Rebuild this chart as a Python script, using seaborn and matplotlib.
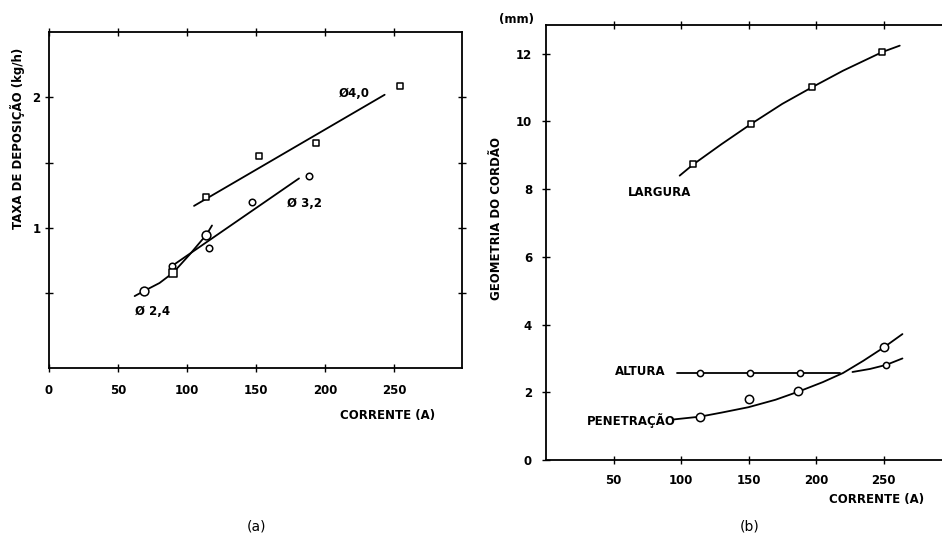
import matplotlib
matplotlib.use("Agg")
import matplotlib.pyplot as plt
import seaborn as sns

# ---------------- Panel (a): deposition rate ----------------
d40_x = [114, 152, 193, 254]
d40_y = [1.24, 1.55, 1.65, 2.09]
fit40_x = [105, 243]
fit40_y = [1.17, 2.02]

d32_x = [89, 116, 147, 188]
d32_y = [0.71, 0.85, 1.20, 1.40]
fit32_x = [89, 181]
fit32_y = [0.71, 1.38]

d24_circ_x = [69, 114]
d24_circ_y = [0.52, 0.95]
d24_sq_x = [90]
d24_sq_y = [0.66]
curve24_x = [62, 69, 80, 90, 102, 114, 118]
curve24_y = [0.48, 0.52, 0.58, 0.66, 0.80, 0.95, 1.02]

a_xticks = [0, 50, 100, 150, 200, 250]
a_yticks = [0.5, 1, 1.5, 2]
a_yticklabels = ["", "1", "", "2"]

# ---------------- Panel (b): bead geometry ----------------
larg_x = [109, 152, 197, 249]
larg_y = [8.73, 9.93, 11.01, 12.05]
larg_curve_x = [99, 109, 130, 152, 175, 197, 220, 249, 262]
larg_curve_y = [8.40, 8.73, 9.33, 9.93, 10.52, 11.01, 11.50, 12.05, 12.24]

alt_x = [114, 151, 188, 252]
alt_y = [2.57, 2.57, 2.57, 2.81]
alt_line1_x = [97, 218]
alt_line1_y = [2.57, 2.57]
alt_line2_x = [227, 240, 252, 264]
alt_line2_y = [2.60, 2.69, 2.81, 3.00]

pen_x = [114, 150, 187, 250]
pen_y = [1.28, 1.80, 2.04, 3.34]
pen_curve_x = [95, 114, 130, 150, 170, 187, 205, 220, 235, 250, 264]
pen_curve_y = [1.20, 1.28, 1.40, 1.56, 1.78, 2.02, 2.30, 2.57, 2.93, 3.32, 3.72]

b_xticks = [50, 100, 150, 200, 250]
b_yticks = [0, 2, 4, 6, 8, 10, 12]

sns.set_style("white")
plt.rcParams['font.family'] = ['DejaVu Sans']
plt.rcParams['text.color'] = 'black'
plt.rcParams['axes.labelcolor'] = 'black'
plt.rcParams['xtick.color'] = 'black'
plt.rcParams['ytick.color'] = 'black'

fig = plt.figure(figsize=(9.42, 5.36), dpi=100)
axa = fig.add_axes([49/942, 1-368/536, (462-49)/942, (368-32)/536])
axb = fig.add_axes([546/942, 1-460/536, (942-546)/942, (460-25)/536])

K = 'black'
LW = 1.3
fs = 8.5
tfs = 8.5

def line(ax, x, y):
    sns.lineplot(x=x, y=y, ax=ax, color=K, linewidth=LW, sort=False,
                 estimator=None, zorder=2)

def pts(ax, x, y, marker, s):
    sns.scatterplot(x=x, y=y, ax=ax, marker=marker, s=s, color='white',
                    edgecolor=K, linewidth=1.1, zorder=3)

# ---- panel (a)
line(axa, fit40_x, fit40_y)
line(axa, fit32_x, fit32_y)
line(axa, curve24_x, curve24_y)
pts(axa, d40_x, d40_y, 's', 22)
pts(axa, d32_x, d32_y, 'o', 22)
pts(axa, d24_circ_x, d24_circ_y, 'o', 40)
pts(axa, d24_sq_x, d24_sq_y, 's', 30)

axa.set_xlim(0, 299)
axa.set_ylim(-0.07, 2.5)
axa.set_xticks(a_xticks)
axa.set_xticklabels([str(v) for v in a_xticks], fontsize=tfs, fontweight='bold')
axa.set_yticks(a_yticks)
axa.set_yticklabels(a_yticklabels, fontsize=tfs, fontweight='bold')
axa.tick_params(direction='inout', length=6, width=1, top=True, right=True,
                bottom=True, left=True)
axa.tick_params(axis='x', pad=8.5)
axa.tick_params(axis='y', pad=3)
for sp in axa.spines.values():
    sp.set_visible(True)
    sp.set_color(K)
    sp.set_linewidth(1.3)
axa.set_xlabel("")
axa.set_ylabel("")

axa.text(221, 2.03, "Ø4,0", fontsize=fs, fontweight='bold', ha='center', va='center')
axa.text(185, 1.185, "Ø 3,2", fontsize=fs, fontweight='bold', ha='center', va='center')
axa.text(75, 0.36, "Ø 2,4", fontsize=fs, fontweight='bold', ha='center', va='center')

fig.text(18/942, 1-138/536, "TAXA DE DEPOSIÇÃO (kg/h)", rotation=90, fontsize=fs,
         fontweight='bold', ha='center', va='center')
fig.text(388/942, 1-416/536, "CORRENTE (A)", fontsize=fs, fontweight='bold',
         ha='center', va='center')
fig.text(256/942, 1-527/536, "(a)", fontsize=10, ha='center', va='center')

# ---- panel (b)
line(axb, larg_curve_x, larg_curve_y)
line(axb, alt_line1_x, alt_line1_y)
line(axb, alt_line2_x, alt_line2_y)
line(axb, pen_curve_x, pen_curve_y)
pts(axb, larg_x, larg_y, 's', 22)
pts(axb, alt_x, alt_y, 'o', 20)
pts(axb, pen_x, pen_y, 'o', 36)

axb.set_xlim(0, 293.3)
axb.set_ylim(0, 12.85)
axb.set_xticks(b_xticks)
axb.set_xticklabels([str(v) for v in b_xticks], fontsize=tfs, fontweight='bold')
axb.set_yticks(b_yticks)
axb.set_yticklabels([str(v) for v in b_yticks], fontsize=tfs, fontweight='bold')
axb.tick_params(direction='inout', length=6, width=1, top=True, right=False,
                bottom=True, left=True, pad=7)
for name, sp in axb.spines.items():
    sp.set_color(K)
    sp.set_linewidth(1.3)
    sp.set_visible(name != 'right')
axb.set_xlabel("")
axb.set_ylabel("")

axb.text(84, 7.89, "LARGURA", fontsize=fs, fontweight='bold', ha='center', va='center')
axb.text(69.5, 2.6, "ALTURA", fontsize=fs, fontweight='bold', ha='center', va='center')
axb.text(63, 1.18, "PENETRAÇÃO", fontsize=fs, fontweight='bold', ha='center', va='center')

fig.text(516/942, 1-20/536, "(mm)", fontsize=fs, fontweight='bold', ha='center', va='center')
fig.text(497/942, 1-219/536, "GEOMETRIA DO CORDÃO", rotation=90, fontsize=fs,
         fontweight='bold', ha='center', va='center')
fig.text(877/942, 1-499/536, "CORRENTE (A)", fontsize=fs, fontweight='bold',
         ha='center', va='center')
fig.text(750/942, 1-527/536, "(b)", fontsize=10, ha='center', va='center')

fig.savefig("out.png", dpi=100, facecolor='white')
